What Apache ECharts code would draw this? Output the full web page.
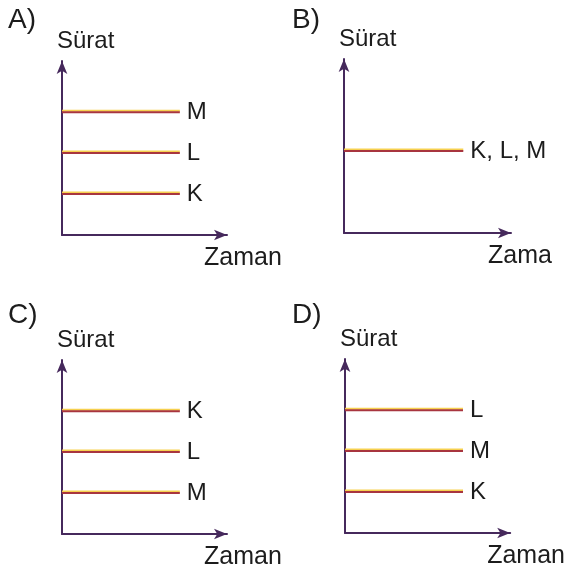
<!DOCTYPE html>
<html>
<head>
<meta charset="utf-8">
<script src="https://cdn.jsdelivr.net/npm/echarts@6/dist/echarts.min.js"></script>
<style>
  html, body { margin: 0; padding: 0; background: #fff; }
  #chart { width: 566px; height: 572px; }
</style>
</head>
<body>
<div id="chart"></div>
<script>
// four options, same three objects
const panels = ['A)', 'B)', 'C)', 'D)'];
const objects = ['K', 'L', 'M'];
// speed of K, L, M in each panel (constant in time)
const speedA = [1, 2, 3];
const speedB = [2, 2, 2];
const speedC = [3, 2, 1];
const speedD = [1, 3, 2];
const speeds = [speedA, speedB, speedC, speedD];
const timeEnd = 3;
const yName = 'Sürat';
const xNames = ['Zaman', 'Zama', 'Zaman', 'Zaman'];

// panel boxes: left, top, width, height
const boxes = [
  [62, 61, 165, 174],
  [344, 59, 167, 174],
  [62, 360, 165, 174],
  [345, 359, 166, 174]
];
const titlePos = [[8, 6], [292, 6], [8, 301], [292, 301]];

const textColor = '#1c1c1c';
const axisColor = '#46295c';
const font = '"Liberation Sans", Arial, sans-serif';

const chart = echarts.init(document.getElementById('chart'));

const grid = [], xAxis = [], yAxis = [], series = [], title = [];

boxes.forEach(function (b, i) {
  grid.push({ left: b[0], top: b[1], width: b[2], height: b[3] });
  title.push({
    text: panels[i], left: titlePos[i][0], top: titlePos[i][1], padding: 0,
    textStyle: { fontFamily: font, fontSize: 28, fontWeight: 'normal', color: textColor }
  });
  const axisLine = {
    show: true, onZero: false,
    symbol: ['none', 'arrow'], symbolSize: [8, 13],
    lineStyle: { color: axisColor, width: 2 }
  };
  xAxis.push({
    type: 'value', gridIndex: i, min: 0, max: 4.2,
    name: xNames[i], nameLocation: 'end', nameGap: -23,
    nameTextStyle: { fontFamily: font, fontSize: 25, color: textColor, align: 'left', verticalAlign: 'top', padding: [11, 0, 0, 0] },
    axisLine: axisLine, axisTick: { show: false }, axisLabel: { show: false }, splitLine: { show: false }
  });
  yAxis.push({
    type: 'value', gridIndex: i, min: 0, max: 4.25,
    name: yName, nameLocation: 'end', nameGap: 8,
    nameTextStyle: { fontFamily: font, fontSize: 24, color: textColor, align: 'left', padding: [0, 0, 0, -5] },
    axisLine: axisLine, axisTick: { show: false }, axisLabel: { show: false }, splitLine: { show: false }
  });

  // group objects sharing the same speed into one line
  const groups = {};
  objects.forEach(function (o, j) {
    const v = speeds[i][j];
    (groups[v] = groups[v] || []).push(o);
  });
  Object.keys(groups).forEach(function (v) {
    const name = groups[v].join(', ');
    series.push({
      type: 'line', name: name, xAxisIndex: i, yAxisIndex: i,
      data: [[0, +v], [timeEnd, +v]],
      showSymbol: false, silent: true,
      lineStyle: {
        color: '#a8353f', width: 2,
        shadowColor: 'rgba(246,205,70,0.95)', shadowBlur: 0, shadowOffsetY: -1.5
      },
      endLabel: {
        show: true, formatter: name, distance: 7,
        fontFamily: font, fontSize: 24, color: textColor
      }
    });
  });
});

chart.setOption({
  animation: false,
  backgroundColor: '#fff',
  title: title,
  grid: grid,
  xAxis: xAxis,
  yAxis: yAxis,
  series: series
});
</script>
</body>
</html>
